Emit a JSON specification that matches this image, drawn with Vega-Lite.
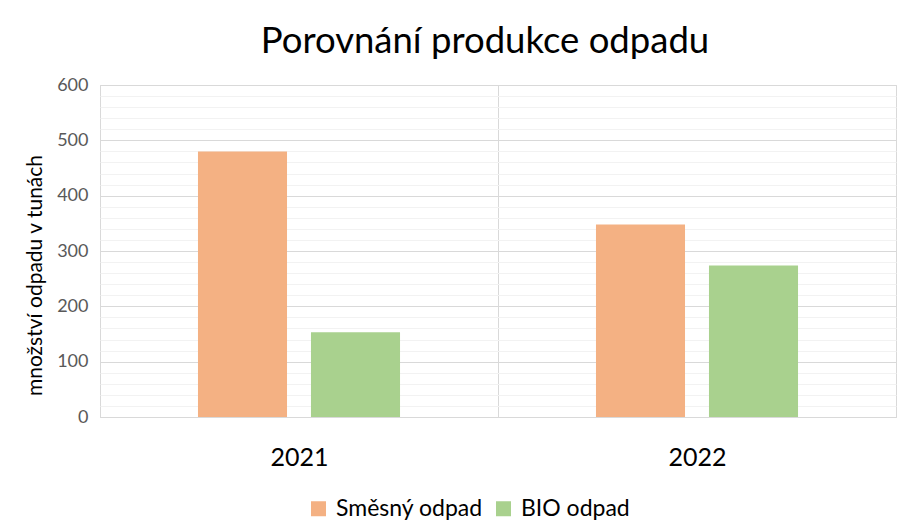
{
  "$schema": "https://vega.github.io/schema/vega-lite/v6.json",
  "width": 796,
  "height": 332,
  "autosize": "none",
  "padding": {"left": 100, "top": 85, "right": 9, "bottom": 114},
  "background": "white",
  "title": {"text": "Porovnání produkce odpadu", "font": "Lato", "fontSize": 36.5, "fontWeight": "normal", "color": "#000000", "anchor": "middle", "dx": -13, "offset": 6},
  "config": {"view": {"stroke": "#d9d9d9"}, "font": "Lato"},
  "data": {"values": [
    {"rok": "2021", "druh": "Směsný odpad", "hodnota": 480},
    {"rok": "2021", "druh": "BIO odpad", "hodnota": 153},
    {"rok": "2022", "druh": "Směsný odpad", "hodnota": 348},
    {"rok": "2022", "druh": "BIO odpad", "hodnota": 274}
  ]},
  "layer": [
    {
      "mark": {"type": "bar", "opacity": 0},
      "encoding": {
        "x": {"field": "rok", "type": "nominal", "scale": {"paddingInner": 0, "paddingOuter": 0}},
        "y": {"field": "hodnota", "type": "quantitative", "scale": {"domain": [0, 600]},
          "axis": {"orient": "left", "values": [20,40,60,80,120,140,160,180,220,240,260,280,320,340,360,380,420,440,460,480,520,540,560,580], "grid": true, "gridColor": "#f2f2f2", "labels": false, "ticks": false, "domain": false, "title": null}}
      }
    },
    {
      "mark": {"type": "bar"},
      "encoding": {
        "x": {"field": "rok", "type": "nominal", "scale": {"paddingInner": 0, "paddingOuter": 0},
          "axis": {"title": null, "labelAngle": 0, "labelAlign": "center", "labelFontSize": 25, "labelColor": "#000000", "ticks": false, "domainColor": "#d9d9d9", "grid": true, "gridColor": "#d9d9d9", "tickBand": "extent", "labelPadding": 40}},
        "xOffset": {"field": "druh", "type": "nominal", "sort": ["Směsný odpad", "BIO odpad"], "scale": {"paddingInner": 0.212, "paddingOuter": 0.867}},
        "y": {"field": "hodnota", "type": "quantitative", "scale": {"domain": [0, 600]},
          "axis": {"orient": "left", "values": [0,100,200,300,400,500,600], "grid": true, "gridColor": "#d9d9d9", "labelColor": "#595959", "labelFontSize": 18, "labelPadding": 12, "ticks": false, "domain": false, "title": "množství odpadu v tunách", "titleFontSize": 21, "titleFontWeight": "normal", "titleColor": "#000000", "titlePadding": 11, "titleY": 190}},
        "color": {"field": "druh", "type": "nominal", "sort": ["Směsný odpad", "BIO odpad"],
          "scale": {"domain": ["Směsný odpad", "BIO odpad"], "range": ["#F4B183", "#A9D18E"]},
          "legend": {"title": null, "orient": "none", "legendX": 207, "legendY": 412, "direction": "horizontal", "symbolType": "square", "symbolSize": 225, "symbolStrokeWidth": 0, "labelFontSize": 23, "labelColor": "#000000", "labelOffset": 6, "columnPadding": 9}}
      }
    }
  ],
  "resolve": {"axis": {"y": "independent"}}
}
